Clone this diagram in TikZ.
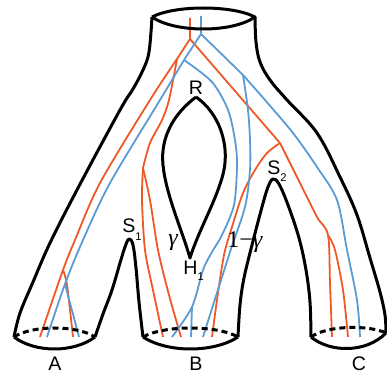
\documentclass[tikz,border=0pt]{standalone}
\usepackage{fontspec}
\setmainfont{Liberation Sans}
\newfontfamily\tnr{Liberation Serif}
\definecolor{gred}{RGB}{240,88,40}
\definecolor{gblue}{RGB}{90,155,213}
\newcommand\subidx[2][-3pt]{\raisebox{#1}{\fontsize{5.6}{6}\selectfont #2}}
\tikzset{
  sp/.style={line width=1.5pt, line join=round},
  rim/.style={line width=1.5pt, dash pattern=on 3pt off 2pt},
  rg/.style={gred, line width=0.9pt},
  bg/.style={gblue, line width=0.9pt},
  lbl/.style={inner sep=0pt, font=\fontsize{9.8}{10}\selectfont},
  glbl/.style={inner sep=0pt, font=\tnr\fontsize{12}{13}\selectfont}
}
\begin{document}
\begin{tikzpicture}[x=0.5pt,y=-0.5pt]
    \useasboundingbox (0,0) rectangle (387,374);
    \coordinate (rtop) at (190,18);
    \coordinate (rroot) at (190,39);
    \coordinate (rl) at (177,59);
    \coordinate (rr) at (280,143);
    \coordinate (ra) at (63,270);
    \coordinate (rb) at (143,168);
    \coordinate (rc) at (328,235);
    \coordinate (ra1) at (40,337);
    \coordinate (ra2) at (73,337);
    \coordinate (rb1) at (163,337);
    \coordinate (rb2) at (181,337);
    \coordinate (rb3) at (212,337);
    \coordinate (rc1) at (332,337);
    \coordinate (rc2) at (348,337);
    \coordinate (btop) at (201,16);
    \coordinate (broot) at (201,34);
    \coordinate (bl) at (184,60);
    \coordinate (br) at (243,75);
    \coordinate (ba) at (65,284);
    \coordinate (bb) at (192,307);
    \coordinate (ba1) at (47,337);
    \coordinate (ba2) at (79,337);
    \coordinate (bb1) at (172,337);
    \coordinate (bb2) at (191,337);
    \coordinate (bb3) at (203,337);
    \coordinate (bc1) at (360,337);
    \draw[rg] (rtop) -- (rroot) -- (rl);
    \draw[rg] (rroot) -- (rr);
    \draw[rg] plot[smooth] coordinates {(rl) (150,100) (100,183) (75,240) (ra) (ra1)};
    \draw[rg] plot[smooth] coordinates {(ra) (67,285) (ra2)};
    \draw[rg] plot[smooth] coordinates {(rl) (169,100) (162,120) (150,143) (rb)};
    \draw[rg] plot[smooth] coordinates {(rb) (142,200) (145,250) (153,290) (rb1)};
    \draw[rg] plot[smooth] coordinates {(rb) (150,200) (158,250) (169,295) (rb2)};
    \draw[rg] plot[smooth] coordinates {(rr) (300,183) (317,217) (rc) (330,283) (rc1)};
    \draw[rg] plot[smooth] coordinates {(rc) (335,250) (343,290) (rc2)};
    \draw[rg] plot[smooth] coordinates {(rr) (267,153) (255,170) (243,193) (232,227) (224,255) (217,300) (rb3)};
    \draw[bg] (btop) -- (broot) -- (bl);
    \draw[bg] (broot) -- (br);
    \draw[bg] plot[smooth] coordinates {(bl) (160,100) (110,183) (83,240) (ba) (ba1)};
    \draw[bg] (ba) -- (ba2);
    \draw[bg] plot[smooth] coordinates {(bl) (212,82) (228,110) (235,140) (237,165) (234,205) (222,235) (212,252) (203,270) (bb) (bb1)};
    \draw[bg] (bb) -- (bb2);
    \draw[bg] plot[smooth] coordinates {(br) (248,110) (250,140) (250,170) (245,207) (230,252) (bb3)};
    \draw[bg] plot[smooth] coordinates {(br) (265,100) (293,133) (317,167) (337,200) (347,250) (357,300) (bc1)};
    \draw[sp] plot[smooth,tension=0.6] coordinates {(14,337) (20,313) (33,282) (50,243) (78,188) (120,110) (133,89) (143,70) (149,52) (152,17)};
    \draw[sp] plot[smooth,tension=0.6] coordinates {(255,17) (256,42) (260,62) (270,80) (287,100) (317,133) (340,177) (357,215) (370,258) (380,292) (385,315) (386,333)};
    \draw[sp] (152,17) .. controls (175,5) and (232,5) .. (255,17) .. controls (232,33) and (175,33) .. (152,17);
    \draw[sp] plot[smooth,tension=0.6] coordinates {(95,337) (103,314) (112,290) (120,263) (125,247) (129,239) (133,245) (136,268) (139,302) (143,337)};
    \draw[sp] plot[smooth,tension=0.6] coordinates {(238,337) (240,305) (244,278) (252,245) (262,207) (268,187) (273,179) (279,184) (288,205) (299,238) (306,270) (310,302) (311,337)};
    \draw[sp] (196,97) .. controls (176,112) and (160,135) .. (163,165) .. controls (166,195) and (182,230) .. (190,258) .. controls (198,232) and (214,205) .. (222,178) .. controls (232,145) and (218,112) .. (196,97);
    \foreach \xl/\xr/\yr in {14/95/337, 143/238/337, 311/386/333}{
    \draw[sp] (\xl,337) .. controls ({\xl+0.26*(\xr-\xl)},353) and ({\xr-0.26*(\xr-\xl)},353) .. (\xr,\yr);
    \draw[rim] (\xl,337) .. controls ({\xl+0.22*(\xr-\xl)},325) and ({\xr-0.22*(\xr-\xl)},325) .. (\xr,\yr);
    }
    \node[lbl, anchor=base] (lR) at (196,95) {R};
    \node[lbl, anchor=base west] (lS1) at (122,233) {S\subidx[-4pt]{1}};
    \node[lbl, anchor=base west] (lS2) at (267,175) {S\subidx[-3.5pt]{2}};
    \node[lbl, anchor=base west] (lH1) at (183,275) {H\subidx{1}};
    \node[glbl, anchor=base] (lg) at (173,246) {\itshape γ};
    \node[glbl, anchor=base west] (lg2) at (227,248) {1−\textit{γ}};
    \node[lbl, anchor=base] (lA) at (55,371) {A};
    \node[lbl, anchor=base] (lB) at (196,371) {B};
    \node[lbl, anchor=base] (lC) at (359,371) {C};
\end{tikzpicture}
\end{document}
